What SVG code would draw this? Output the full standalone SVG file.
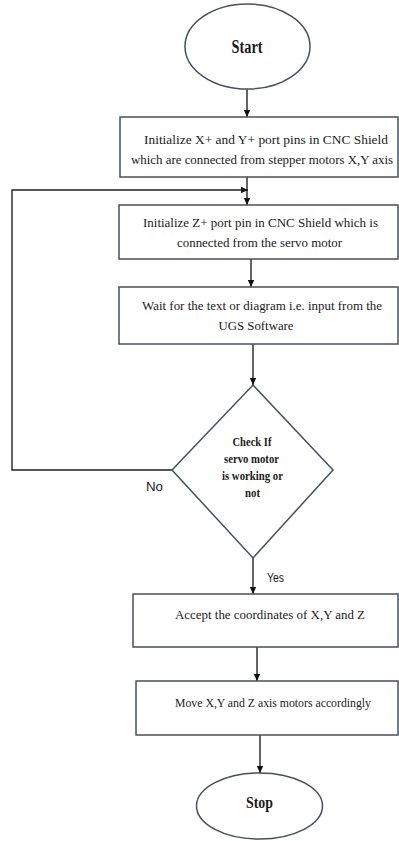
<svg xmlns="http://www.w3.org/2000/svg" width="399" height="841" viewBox="0 0 399 841">
<style>
.shape{fill:#fff;stroke:#44505f;stroke-width:1.5}
.ln{fill:none;stroke:#222;stroke-width:1.4}
.t{font-family:"Liberation Serif","Times New Roman",serif;font-size:13px;fill:#1a1a1a;text-anchor:middle}
.b{font-family:"Liberation Serif","Times New Roman",serif;font-weight:bold;fill:#1a1a1a;text-anchor:middle}
.s{font-family:"Liberation Sans",Arial,sans-serif;font-size:12px;fill:#1a1a1a;text-anchor:middle}
</style>
<defs>
<marker id="ah" markerWidth="8" markerHeight="8" refX="7" refY="4" orient="auto" markerUnits="userSpaceOnUse">
<path d="M0,0.8 L7,4 L0,7.2 Z" fill="#111"/>
</marker>
</defs>
<rect width="399" height="841" fill="#fff"/>
<g id="connectors">
<line class="ln" x1="247" y1="89" x2="247" y2="117" marker-end="url(#ah)"/>
<line class="ln" x1="247" y1="177" x2="247" y2="205" marker-end="url(#ah)"/>
<polyline class="ln" points="172,470 12,470 12,190 248,190" marker-end="url(#ah)"/>
<line class="ln" x1="251" y1="259" x2="251" y2="287" marker-end="url(#ah)"/>
<line class="ln" x1="253" y1="344" x2="253" y2="385" marker-end="url(#ah)"/>
<line class="ln" x1="253" y1="558" x2="253" y2="594" marker-end="url(#ah)"/>
<line class="ln" x1="257" y1="647" x2="257" y2="681" marker-end="url(#ah)"/>
<line class="ln" x1="260" y1="735" x2="260" y2="773" marker-end="url(#ah)"/>
<text class="s" x="154.5" y="491" textLength="17" lengthAdjust="spacingAndGlyphs">No</text>
<text class="s" x="275.5" y="582" textLength="17" lengthAdjust="spacingAndGlyphs">Yes</text>
</g>
<g id="start">
<ellipse class="shape" cx="247.5" cy="46.5" rx="62.5" ry="42.5"/>
<text class="b" x="247" y="53" font-size="18" textLength="31" lengthAdjust="spacingAndGlyphs">Start</text>
</g>
<g id="init-xy">
<rect class="shape" x="120" y="117" width="278" height="60"/>
<text class="t" x="266" y="144" textLength="244" lengthAdjust="spacingAndGlyphs">Initialize X+ and Y+ port pins in CNC Shield</text>
<text class="t" x="262" y="164" textLength="262" lengthAdjust="spacingAndGlyphs">which are connected from stepper motors X,Y axis</text>
</g>
<g id="init-z">
<rect class="shape" x="119" y="205" width="279" height="54"/>
<text class="t" x="260.5" y="227" textLength="235" lengthAdjust="spacingAndGlyphs">Initialize Z+ port pin in CNC Shield which is</text>
<text class="t" x="259.5" y="247" textLength="165" lengthAdjust="spacingAndGlyphs">connected from the servo motor</text>
</g>
<g id="wait">
<rect class="shape" x="119" y="287" width="279" height="57"/>
<text class="t" x="262" y="310" textLength="240" lengthAdjust="spacingAndGlyphs">Wait for the text or diagram i.e. input from the</text>
<text class="t" x="256" y="330" textLength="75" lengthAdjust="spacingAndGlyphs">UGS Software</text>
</g>
<g id="check">
<polygon class="shape" points="253,385 333,470 253,558 172,470"/>
<text class="b" x="252" y="446" font-size="12.5" textLength="39" lengthAdjust="spacingAndGlyphs">Check If</text>
<text class="b" x="251.5" y="463" font-size="12.5" textLength="55" lengthAdjust="spacingAndGlyphs">servo motor</text>
<text class="b" x="252.5" y="480" font-size="12.5" textLength="61" lengthAdjust="spacingAndGlyphs">is working or</text>
<text class="b" x="252.5" y="497" font-size="12.5" textLength="15" lengthAdjust="spacingAndGlyphs">not</text>
</g>
<g id="accept">
<rect class="shape" x="133" y="594" width="265" height="53"/>
<text class="t" x="270" y="619" textLength="190" lengthAdjust="spacingAndGlyphs">Accept the coordinates of X,Y and Z</text>
</g>
<g id="move">
<rect class="shape" x="136" y="681" width="262" height="54"/>
<text class="t" x="273" y="707" font-size="12" textLength="196" lengthAdjust="spacingAndGlyphs">Move X,Y and Z axis motors accordingly</text>
</g>
<g id="stop">
<ellipse class="shape" cx="259.5" cy="806" rx="63" ry="33"/>
<text class="b" x="259.5" y="808" font-size="16" textLength="27" lengthAdjust="spacingAndGlyphs">Stop</text>
</g>
</svg>
